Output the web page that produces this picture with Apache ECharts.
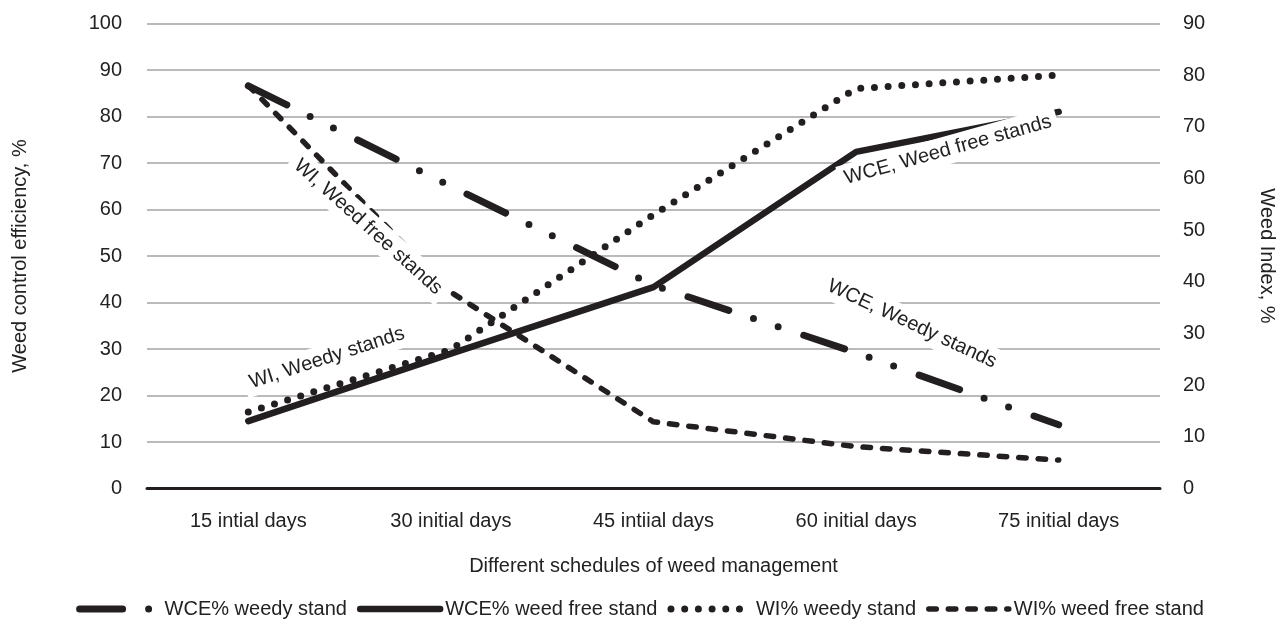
<!DOCTYPE html>
<html>
<head>
<meta charset="utf-8">
<script src="https://cdn.jsdelivr.net/npm/echarts@6/dist/echarts.min.js"></script>
<style>
html,body{margin:0;padding:0;background:#fff;}
#chart{width:1280px;height:624px;}
</style>
</head>
<body>
<div id="chart"></div>
<script>
// ---- Data ----
const categories = ['15 intial days', '30 initial days', '45 intiial days', '60 initial days', '75 initial days'];
const wceWeedy = [86.6, 65.0, 43.7, 29.2, 13.7];      // left axis
const wceWeedFree = [14.5, 29.0, 43.3, 72.4, 81.0];   // left axis
const wiWeedy = [14.8, 26.9, 53.0, 77.4, 80.0];       // right axis
const wiWeedFree = [78.0, 38.0, 12.9, 8.1, 5.5];      // right axis
const seriesNames = ['WCE% weedy stand', 'WCE% weed free stand', 'WI% weedy stand', 'WI% weed free stand'];
const leftTicks = {min: 0, max: 100, interval: 10};
const rightTicks = {min: 0, max: 90, interval: 10};
const lineLabels = ['WI, Weed free stands', 'WCE, Weed free stands', 'WI, Weedy stands', 'WCE, Weedy stands'];

const FONT = "'Liberation Sans', Arial, sans-serif";
const INK = '#231f20';
const TXT = '#222';

const chart = echarts.init(document.getElementById('chart'), null, {renderer: 'canvas'});

function lineSeries(name, data, yIdx, width, type) {
  return {
    name: name, type: 'line', data: data, yAxisIndex: yIdx,
    symbol: 'none', smooth: false,
    lineStyle: {color: INK, width: width, type: type, cap: 'round', join: 'round'},
    itemStyle: {color: INK},
    emphasis: {disabled: true},
    animation: false
  };
}

function label(text, x, y, deg) {
  return {
    type: 'text', x: x, y: y, rotation: deg * Math.PI / 180, z: 100,
    style: {
      text: text, fill: TXT, font: '20px ' + FONT,
      align: 'center', verticalAlign: 'middle',
      backgroundColor: '#fff', padding: [4, 6]
    }
  };
}

const option = {
  backgroundColor: '#fff',
  animation: false,
  textStyle: {fontFamily: FONT},
  grid: {left: 147, right: 120, top: 23.5, bottom: 135.5, containLabel: false, outerBoundsMode: 'none'},
  legend: {
    data: seriesNames,
    left: 'center', top: 594,
    itemWidth: 80, itemHeight: 20, itemGap: 10,
    textStyle: {fontSize: 20, color: TXT, fontFamily: FONT},
    lineStyle: {width: 'inherit', type: 'inherit', cap: 'round'},
    itemStyle: {opacity: 0, borderWidth: 0}
  },
  xAxis: {
    type: 'category', data: categories, boundaryGap: true,
    axisLine: {lineStyle: {color: INK, width: 3}},
    axisTick: {show: false},
    axisLabel: {color: TXT, fontSize: 20, margin: 23, fontFamily: FONT},
    name: 'Different schedules of weed management',
    nameLocation: 'middle', nameGap: 68,
    nameTextStyle: {color: TXT, fontSize: 20, fontFamily: FONT}
  },
  yAxis: [
    {
      type: 'value', min: leftTicks.min, max: leftTicks.max, interval: leftTicks.interval,
      axisLine: {show: false}, axisTick: {show: false},
      axisLabel: {color: TXT, fontSize: 20, margin: 25, fontFamily: FONT},
      splitLine: {lineStyle: {color: '#a3a3a3', width: 1.5}},
      name: 'Weed control efficiency, %', nameLocation: 'middle', nameGap: 117,
      nameTextStyle: {color: TXT, fontSize: 20, fontFamily: FONT}
    },
    {
      type: 'value', min: rightTicks.min, max: rightTicks.max, interval: rightTicks.interval,
      position: 'right',
      axisLine: {show: false}, axisTick: {show: false},
      axisLabel: {color: TXT, fontSize: 20, margin: 23, fontFamily: FONT},
      splitLine: {show: false},
      name: 'Weed Index, %', nameLocation: 'middle', nameGap: 97, nameRotate: -90,
      nameTextStyle: {color: TXT, fontSize: 20, fontFamily: FONT}
    }
  ],
  series: [
    lineSeries(seriesNames[0], wceWeedy, 0, 7, [43, 26, 0, 26, 0, 27]),
    lineSeries(seriesNames[1], wceWeedFree, 0, 6.5, 'solid'),
    lineSeries(seriesNames[2], wiWeedy, 1, 7, [0, 13.7]),
    lineSeries(seriesNames[3], wiWeedFree, 1, 5.5, [7.5, 12])
  ],
  graphic: [
    label(lineLabels[0], 368, 227, -42),
    label(lineLabels[1], 948, 150, 15.6),
    label(lineLabels[2], 327, 358, 18),
    label(lineLabels[3], 912, 324, -25)
  ]
};
chart.setOption(option);
</script>
</body>
</html>
